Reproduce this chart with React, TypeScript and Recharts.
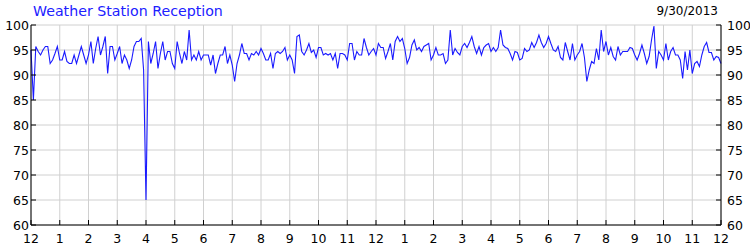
import React from 'react';
import { LineChart, Line, XAxis, YAxis, CartesianGrid } from 'recharts';

// reception %, one reading every 5 minutes
const readingsAM = [
  95, 85, 95.7, 94.7, 94, 95, 95.7, 95.7, 92.3, 93, 94.3, 95.7,
  93, 93, 94.7, 92.7, 92.3, 92.3, 94, 92.3, 94, 95.7, 94, 92.3,
  94, 96.7, 92.3, 95.3, 97.7, 94, 95.7, 97.7, 90.3, 95.7, 95.7, 93,
  94.3, 95.7, 92.3, 94, 93, 91.3, 93, 95.7, 96.7, 96.7, 97.3, 91,
  65, 96.7, 92.3, 94.3, 96.7, 91.3, 94.3, 96.7, 93, 94.7, 94.7, 92.3,
  91.3, 96.7, 94.3, 92.3, 94.7, 93, 99, 93, 94, 93, 94.7, 93,
  94, 94, 94, 92, 94, 90.3, 92.3, 94, 94, 95.7, 92.3, 94,
  92, 88.7, 92.3, 94, 96.3, 94.3, 94.3, 93, 94.3, 94, 94.7, 94,
  95.3, 94.3, 93, 93, 94.3, 91.3, 94.3, 94.7, 94.3, 94.7, 95.5, 93,
  94, 93, 90.3, 97.7, 98, 94.7, 94, 95, 96.3, 94.5, 95, 93.5,
  95.5, 95.5, 94, 94.3, 94, 94.3, 93, 94.3, 91.3, 94.3, 94.3, 94,
  93, 96.3, 96.3, 93, 94.7, 94, 94, 97.3, 95.5, 94, 94.7, 95.3,
];

const readingsPM = [
  94, 96.3, 95.5, 95.5, 93.3, 94.7, 96.3, 93, 96.7, 97.7, 96.7, 97.3,
  95.3, 92.3, 93.5, 96, 97, 95, 95.5, 94.7, 95.7, 96, 96.3, 93,
  94, 95.5, 94, 94, 94.3, 92.3, 93, 99, 94, 95.3, 94.5, 94,
  95.7, 96.3, 95.5, 96.5, 97.7, 95.7, 94.3, 95.7, 94, 95.5, 96, 96.3,
  94.7, 95.5, 94.7, 95.5, 99, 96, 95.5, 95.3, 94.3, 93, 94.7, 94.5,
  93, 93.3, 95.3, 94.7, 95, 96.5, 95.5, 96.5, 98, 96.5, 95.5, 96.3,
  97.7, 96.3, 95, 94.7, 95.7, 93.5, 93, 96.5, 94.7, 93, 96.3, 93,
  94, 94.7, 96.3, 93.5, 88.7, 91, 92.7, 92.3, 95.3, 93, 99, 94.7,
  96.7, 94, 95.5, 93.7, 93, 95.7, 94, 94.7, 94.7, 94.7, 95.5, 95.3,
  94, 93, 94.3, 96, 94.3, 92.3, 93.7, 97, 99.8, 91.3, 94.7, 94,
  93, 96.3, 93, 94.7, 95.5, 94, 94, 93, 89.3, 94.7, 91, 95,
  90.3, 92.3, 92.7, 91.7, 94, 95.7, 96.5, 94.5, 94.5, 93, 93.7, 93.5,
  92.3,
];

const hourTicks = Array.from({ length: 25 }, (_, i) => i * 12);
const hourLabels = ['12', '1', '2', '3', '4', '5', '6', '7', '8', '9', '10', '11'];
const yTicks = [60, 65, 70, 75, 80, 85, 90, 95, 100];

const title = 'Weather Station Reception';
const dateLabel = '9/30/2013';

const data = [...readingsAM, ...readingsPM].map((v, i) => ({ t: i, v }));

const FONT = 'Tahoma, "DejaVu Sans", sans-serif';
const TICK_LEN = 5;

const BottomTick = ({ x, y, payload }: any) => (
  <g>
    <line x1={x} x2={x} y1={y} y2={y - TICK_LEN} stroke="#000" />
    <text x={x} y={y + 18} textAnchor="middle" fontSize={12.5} fontFamily={FONT} fill="#000">
      {hourLabels[(payload.value / 12) % 12]}
    </text>
  </g>
);

const TopTick = ({ x, y }: any) => (
  <line x1={x} x2={x} y1={y} y2={y + TICK_LEN} stroke="#000" />
);

const LeftTick = ({ x, y, payload }: any) => (
  <g>
    <line x1={x} x2={x + TICK_LEN} y1={y} y2={y} stroke="#000" />
    <text x={x - 2} y={y} dy="0.36em" textAnchor="end" fontSize={12.5} fontFamily={FONT} fill="#000">
      {payload.value}
    </text>
  </g>
);

const RightTick = ({ x, y, payload }: any) => (
  <g>
    <line x1={x} x2={x - TICK_LEN} y1={y} y2={y} stroke="#000" />
    <text x={x + 6} y={y} dy="0.36em" textAnchor="start" fontSize={12.5} fontFamily={FONT} fill="#000">
      {payload.value}
    </text>
  </g>
);

export default function App() {
  return (
    <div style={{ position: 'absolute', left: 0, top: 0, width: 750, height: 250, background: '#fff' }}>
      <div
        style={{
          position: 'absolute', left: 33, top: 3, fontFamily: FONT, fontSize: 14.2,
          color: '#2020ff', whiteSpace: 'nowrap',
        }}
      >
        {title}
      </div>
      <div
        style={{
          position: 'absolute', right: 32, top: 4, fontFamily: FONT, fontSize: 12,
          color: '#000', whiteSpace: 'nowrap',
        }}
      >
        {dateLabel}
      </div>
      <LineChart width={750} height={250} data={data} margin={{ top: 25, right: 0, bottom: 0, left: 0 }}>
        <CartesianGrid stroke="#d0d0d0" horizontalValues={yTicks} />
        <XAxis
          dataKey="t"
          type="number"
          domain={[0, 288]}
          ticks={hourTicks}
          interval={0}
          height={25}
          tickSize={0}
          tickMargin={0}
          tickLine={false}
          axisLine={{ stroke: '#000' }}
          tick={<BottomTick />}
        />
        <XAxis
          xAxisId="top"
          orientation="top"
          dataKey="t"
          type="number"
          domain={[0, 288]}
          ticks={hourTicks}
          interval={0}
          height={0}
          tickSize={0}
          tickMargin={0}
          tickLine={false}
          axisLine={{ stroke: '#000' }}
          tick={<TopTick />}
        />
        <YAxis
          type="number"
          domain={[60, 100]}
          ticks={yTicks}
          interval={0}
          width={31}
          tickSize={0}
          tickMargin={0}
          tickLine={false}
          axisLine={{ stroke: '#000' }}
          tick={<LeftTick />}
          allowDataOverflow
        />
        <YAxis
          yAxisId="right"
          orientation="right"
          type="number"
          domain={[60, 100]}
          ticks={yTicks}
          interval={0}
          width={29}
          tickSize={0}
          tickMargin={0}
          tickLine={false}
          axisLine={{ stroke: '#000' }}
          tick={<RightTick />}
          allowDataOverflow
        />
        <Line
          type="linear"
          dataKey="v"
          stroke="#1a1aff"
          strokeWidth={1.1}
          dot={false}
          isAnimationActive={false}
        />
      </LineChart>
    </div>
  );
}
